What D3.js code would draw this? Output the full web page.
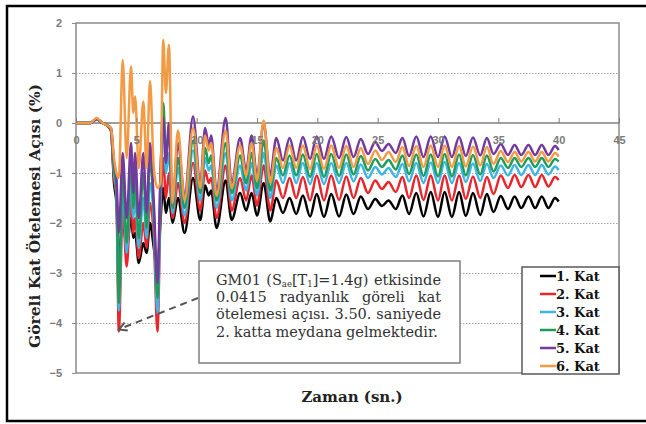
<!DOCTYPE html>
<html>
<head>
<meta charset="utf-8">
<script src="https://cdn.jsdelivr.net/npm/d3@7"></script>
<style>
body { margin: 0; background: #fff; }
</style>
</head>
<body>
<div id="chart"></div>
<script>
/*
 Göreli kat ötelemesi açısı - GM01, 6 kat.
 Values at the peaks / troughs of each wave.
*/

// time (sn.)
var time = [0, 1.2, 1.7, 2.2, 2.6, 2.9, 3.15, 3.35, 3.55, 3.87, 4.2, 4.56, 4.75, 4.9, 5.2, 5.58, 5.85, 6.13, 6.45, 6.75,
	7.0, 7.23, 7.45, 7.7, 8.0, 8.45,
	9.0, 9.7, 10.3, 10.7, 11.0, 11.2, 11.65, 12.4, 12.9, 13.6,
	14.1, 14.55, 15.0, 15.55, 16.1, 16.6, 17.15, 17.7, 18.25, 18.8,
	19.4, 19.95, 20.55, 21.15, 21.8, 22.4, 23.0, 23.6, 24.2, 24.8,
	25.35, 25.9, 26.5, 27.05, 27.6, 28.2, 28.8, 29.4, 30.0, 30.55,
	31.15, 31.75, 32.3, 32.9, 33.5, 34.05, 34.6, 35.2, 35.8, 36.35,
	36.9, 37.5, 38.05, 38.6, 39.15, 39.7, 40.0];

// drift ratio (%) per storey
var kat1 = [0, 0, 0.08, 0, -0.05, -0.15, -1.2, -1.6, -2.7, -1.9, -2.5, -1.9, -2.3, -2.2, -2.8, -2.4, -2.6, -2.0, -2.5, -3.0,
	-1.95, -1.3, -1.8, -1.5, -2.0, -1.5,
	-2.2, -1.1, -1.94, -1.25, -1.45, -1.35, -2.1, -1.15, -1.94, -1.4,
	-1.75, -1.4, -1.85, -1.2, -1.97, -1.5, -1.8, -1.5, -1.82, -1.45,
	-1.87, -1.42, -1.88, -1.42, -1.87, -1.43, -1.82, -1.47, -1.72, -1.52,
	-1.66, -1.55, -1.72, -1.45, -1.82, -1.4, -1.87, -1.38, -1.88, -1.38,
	-1.88, -1.38, -1.86, -1.4, -1.84, -1.42, -1.78, -1.46, -1.72, -1.47,
	-1.7, -1.47, -1.7, -1.47, -1.7, -1.5, -1.57];
var kat2 = [0, 0, 0.08, 0, -0.05, -0.15, -1.1, -1.5, -4.17, -1.7, -2.87, -1.5, -2.2, -1.9, -2.7, -2.0, -2.5, -1.6, -2.3, -4.17,
	-1.8, -0.7, -1.5, -1.0, -1.9, -1.2,
	-2.0, -0.8, -1.75, -0.95, -1.2, -1.1, -1.9, -0.85, -1.75, -1.1,
	-1.55, -1.05, -1.65, -0.85, -1.75, -1.15, -1.5, -1.1, -1.5, -1.08,
	-1.55, -1.05, -1.55, -1.05, -1.54, -1.07, -1.5, -1.1, -1.4, -1.15,
	-1.32, -1.18, -1.38, -1.08, -1.5, -1.05, -1.54, -1.05, -1.55, -1.05,
	-1.55, -1.05, -1.52, -1.07, -1.5, -1.08, -1.42, -1.05, -1.3, -1.04,
	-1.28, -1.04, -1.28, -1.04, -1.27, -1.08, -1.14];
var kat3 = [0, 0, 0.08, 0, -0.05, -0.12, -1.0, -1.4, -3.75, -1.3, -2.6, -1.1, -1.9, -1.5, -2.5, -1.5, -2.3, -1.2, -2.0, -3.8,
	-1.5, 0.2, -1.0, -0.6, -1.8, -0.9,
	-1.85, -0.55, -1.55, -0.7, -0.95, -0.85, -1.7, -0.6, -1.55, -0.85,
	-1.35, -0.8, -1.45, -0.6, -1.5, -0.85, -1.2, -0.8, -1.2, -0.8,
	-1.22, -0.8, -1.22, -0.8, -1.2, -0.8, -1.17, -0.83, -1.1, -0.88,
	-1.03, -0.9, -1.08, -0.82, -1.17, -0.8, -1.2, -0.79, -1.2, -0.78,
	-1.2, -0.8, -1.18, -0.81, -1.16, -0.82, -1.1, -0.85, -1.05, -0.84,
	-1.04, -0.84, -1.04, -0.84, -1.03, -0.87, -0.94];
var kat4 = [0, 0, 0.08, 0, -0.05, -0.12, -0.9, -1.3, -3.6, -0.9, -2.4, -0.7, -1.7, -1.0, -2.3, -1.0, -2.1, -0.7, -1.8, -3.5,
	-1.2, 0.4, -0.6, -0.2, -1.7, -0.7,
	-1.7, -0.35, -1.4, -0.5, -0.8, -0.65, -1.55, -0.4, -1.4, -0.65,
	-1.2, -0.6, -1.3, -0.35, -1.35, -0.7, -1.05, -0.65, -1.05, -0.63,
	-1.08, -0.62, -1.08, -0.62, -1.06, -0.63, -1.03, -0.66, -0.95, -0.72,
	-0.88, -0.74, -0.93, -0.65, -1.02, -0.63, -1.06, -0.63, -1.07, -0.62,
	-1.07, -0.63, -1.05, -0.64, -1.03, -0.65, -0.97, -0.7, -0.9, -0.7,
	-0.88, -0.7, -0.88, -0.7, -0.88, -0.72, -0.77];
var kat5 = [0, 0, 0.08, 0, -0.05, -0.1, -0.8, -1.1, -2.2, -0.6, -1.9, -0.4, -1.4, -0.6, -1.9, -0.6, -1.8, -0.4, -1.6, -3.2,
	-1.0, 0.1, -0.8, 0.0, -1.6, -0.4,
	-1.45, 0.13, -1.2, -0.1, -0.45, -0.25, -1.35, 0.1, -1.2, -0.3,
	-0.95, -0.25, -1.05, 0.0, -1.05, -0.3, -0.75, -0.3, -0.75, -0.28,
	-0.72, -0.27, -0.72, -0.27, -0.7, -0.28, -0.68, -0.32, -0.62, -0.38,
	-0.56, -0.42, -0.6, -0.3, -0.66, -0.27, -0.68, -0.27, -0.68, -0.27,
	-0.68, -0.28, -0.66, -0.29, -0.65, -0.3, -0.62, -0.42, -0.64, -0.44,
	-0.64, -0.44, -0.64, -0.44, -0.64, -0.46, -0.54];
var kat6 = [0, 0, 0.1, 0, -0.05, -0.1, -0.7, -1.0, -1.1, 1.26, -0.7, 1.13, 0.2, 0.53, -0.9, 0.43, -0.9, 0.84, -0.9, -1.3,
	-1.2, 1.66, 0.6, 1.56, -1.6, -0.15,
	-1.55, -0.1, -1.3, -0.25, -0.55, -0.4, -1.45, -0.15, -1.3, -0.45,
	-1.05, -0.4, -1.15, 0.05, -1.2, -0.5, -0.9, -0.45, -0.9, -0.45,
	-0.92, -0.45, -0.92, -0.45, -0.9, -0.46, -0.88, -0.5, -0.82, -0.55,
	-0.74, -0.58, -0.78, -0.48, -0.86, -0.46, -0.88, -0.45, -0.88, -0.45,
	-0.88, -0.46, -0.87, -0.47, -0.85, -0.48, -0.82, -0.56, -0.78, -0.58,
	-0.77, -0.58, -0.77, -0.58, -0.77, -0.6, -0.67];

var seriesNames = ["1. Kat", "2. Kat", "3. Kat", "4. Kat", "5. Kat", "6. Kat"];
var seriesColors = ["#000000", "#e8262b", "#3db6e3", "#1f9c5b", "#74399e", "#f39a45"];

var xTicks = [0, 5, 10, 15, 20, 25, 30, 35, 40, 45];
var yTicks = [2, 1, 0, -1, -2, -3, -4, -5];
var gridValues = [1, -1, -2, -3, -4];

// peak value pointed at by the note (3.50 s, 2. kat)
var peakPoint = [3.55, -4.15];

var noteLines = [
	[["GM01 (S", 0], ["ae", 1], ["[T", 0], ["1", 1], ["]=1.4g) etkisinde", 0]],
	[["0.0415 radyanlık göreli kat", 0]],
	[["ötelemesi açısı. 3.50. saniyede", 0]],
	[["2. katta meydana gelmektedir.", 0]]
];

var width = 646, height = 424;
var plot = { left: 76, top: 23, right: 619, bottom: 373 };

var svg = d3.select("#chart").append("svg")
	.attr("width", width)
	.attr("height", height);

var x = d3.scaleLinear().domain([0, 45]).range([plot.left, plot.right]);
var y = d3.scaleLinear().domain([-5, 2]).range([plot.bottom, plot.top]);

// outer frame (right side is cut off in the original)
svg.append("rect")
	.attr("x", 7).attr("y", 6)
	.attr("width", 680).attr("height", 415)
	.attr("fill", "none")
	.attr("stroke", "#000")
	.attr("stroke-width", 2.5);

// dotted grid
svg.append("g")
	.attr("transform", "translate(" + plot.left + ",0)")
	.call(d3.axisLeft(y).tickValues(gridValues).tickSize(-(plot.right - plot.left)).tickFormat(""))
	.call(function(g) { g.select(".domain").remove(); })
	.selectAll("line")
		.attr("stroke", "#a6a6a6")
		.attr("stroke-width", 1)
		.attr("stroke-dasharray", "1.5,1.5");

// plot border
svg.append("rect")
	.attr("x", plot.left).attr("y", plot.top)
	.attr("width", plot.right - plot.left)
	.attr("height", plot.bottom - plot.top)
	.attr("fill", "none")
	.attr("stroke", "#8c8c8c")
	.attr("stroke-width", 1.5);

// y axis
var yAxis = svg.append("g")
	.attr("transform", "translate(" + plot.left + ",0)")
	.call(d3.axisLeft(y).tickValues(yTicks).tickSize(4).tickPadding(10).tickFormat(d3.format("d")));
yAxis.select(".domain").remove();
yAxis.selectAll("line").attr("stroke", "#8c8c8c");

// x axis sits on the zero line, ticks pointing up
var xAxis = svg.append("g")
	.attr("transform", "translate(0," + y(0) + ")")
	.call(d3.axisBottom(x).tickValues(xTicks).tickSizeInner(-5).tickSizeOuter(0).tickPadding(13));
xAxis.select(".domain").remove();
xAxis.selectAll("line").attr("stroke", "#7f7f7f");

svg.selectAll(".tick text")
	.attr("font-family", "'Liberation Sans', Arial, sans-serif")
	.attr("font-size", 11)
	.attr("font-weight", "bold")
	.attr("fill", "#7a7a7a");

// zero line
svg.append("line")
	.attr("x1", plot.left).attr("x2", plot.right)
	.attr("y1", y(0)).attr("y2", y(0))
	.attr("stroke", "#7f7f7f")
	.attr("stroke-width", 1.5);

// series
var allSeries = [kat1, kat2, kat3, kat4, kat5, kat6];
var line = d3.line()
	.x(function(d) { return x(d[0]); })
	.y(function(d) { return y(d[1]); })
	.curve(d3.curveMonotoneX);

svg.append("g")
	.selectAll("path")
	.data(allSeries)
	.enter().append("path")
		.attr("d", function(s) { return line(time.map(function(t, i) { return [t, s[i]]; })); })
		.attr("fill", "none")
		.attr("stroke", function(d, i) { return seriesColors[i]; })
		.attr("stroke-width", 2.5)
		.attr("stroke-linejoin", "round");

// x tick labels above the lines
xAxis.raise();

// axis titles
var serif = "'DejaVu Serif', 'Liberation Serif', serif";
svg.append("text")
	.attr("transform", "translate(40,216) rotate(-90)")
	.attr("text-anchor", "middle")
	.attr("font-family", serif)
	.attr("font-weight", "bold")
	.attr("font-size", 15.5)
	.attr("fill", "#222")
	.text("Göreli Kat Ötelemesi Açısı (%)");

svg.append("text")
	.attr("x", 352).attr("y", 402)
	.attr("text-anchor", "middle")
	.attr("font-family", serif)
	.attr("font-weight", "bold")
	.attr("font-size", 15)
	.attr("fill", "#222")
	.text("Zaman (sn.)");

// note box + dashed arrow
var box = { x: 199, y: 261, w: 261, h: 102 };
svg.append("rect")
	.attr("x", box.x).attr("y", box.y)
	.attr("width", box.w).attr("height", box.h)
	.attr("fill", "#fff")
	.attr("stroke", "#7f7f7f")
	.attr("stroke-width", 1.5);

var noteG = svg.append("g")
	.attr("font-family", serif)
	.attr("font-size", 14.5)
	.attr("fill", "#333");

var textLeft = 216, textRight = 441;
noteLines.forEach(function(parts, li) {
	var base = 285 + li * 17.2;
	// split into words (a word can hold subscript pieces)
	var words = [[]];
	parts.forEach(function(p) {
		var chunks = p[0].split(" ");
		chunks.forEach(function(c, ci) {
			if (ci > 0) words.push([]);
			if (c.length) words[words.length - 1].push([c, p[1]]);
		});
	});
	var nodes = words.map(function(w) {
		var t = noteG.append("text").attr("y", base);
		w.forEach(function(piece, pi) {
			var ts = t.append("tspan").text(piece[0]);
			if (piece[1]) ts.attr("font-size", 8.5).attr("dy", 2);
			else if (pi > 0) ts.attr("dy", -2);
		});
		return t;
	});
	var widths = nodes.map(function(n) { return n.node().getComputedTextLength(); });
	var total = d3.sum(widths);
	var last = li === noteLines.length - 1;
	var gap = (!last && nodes.length > 1) ? (textRight - textLeft - total) / (nodes.length - 1) : 4;
	var cx = textLeft;
	nodes.forEach(function(n, i) {
		n.attr("x", cx);
		cx += widths[i] + gap;
	});
});

var tipX = x(peakPoint[0]), tipY = y(peakPoint[1]) - 1;
var startX = box.x - 1, startY = 298;
svg.append("line")
	.attr("x1", startX).attr("y1", startY)
	.attr("x2", tipX + 2).attr("y2", tipY - 1)
	.attr("stroke", "#555")
	.attr("stroke-width", 2)
	.attr("stroke-dasharray", "7,5");
var ang = Math.atan2(startY - tipY, startX - tipX);
var headLen = 9, spread = 0.5;
svg.append("path")
	.attr("d", "M" + (tipX + headLen * Math.cos(ang - spread)) + "," + (tipY + headLen * Math.sin(ang - spread)) +
		"L" + tipX + "," + tipY +
		"L" + (tipX + headLen * Math.cos(ang + spread)) + "," + (tipY + headLen * Math.sin(ang + spread)))
	.attr("fill", "none")
	.attr("stroke", "#555")
	.attr("stroke-width", 2);

// legend
var legend = svg.append("g");
legend.append("rect")
	.attr("x", 522).attr("y", 267)
	.attr("width", 97).attr("height", 107)
	.attr("fill", "#fff")
	.attr("stroke", "#595959")
	.attr("stroke-width", 1.5);

var item = legend.selectAll(".item")
	.data(seriesNames)
	.enter().append("g")
		.attr("class", "item")
		.attr("transform", function(d, i) { return "translate(0," + (276 + i * 18) + ")"; });
item.append("line")
	.attr("x1", 540).attr("x2", 556)
	.attr("stroke", function(d, i) { return seriesColors[i]; })
	.attr("stroke-width", 2.5);
item.append("text")
	.attr("x", 556).attr("y", 4.5)
	.attr("font-family", serif)
	.attr("font-weight", "bold")
	.attr("font-size", 13)
	.attr("fill", "#111")
	.text(function(d) { return d; });
</script>
</body>
</html>
